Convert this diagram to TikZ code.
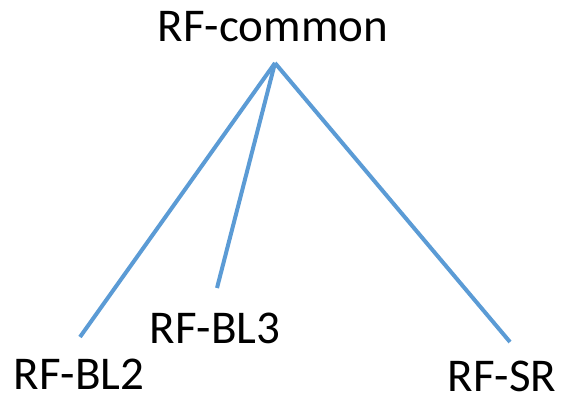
\documentclass[tikz,border=0pt]{standalone}
\usepackage{fontspec}
\setmainfont{Carlito}
\definecolor{lineblue}{HTML}{5B9BD5}
\tikzset{
  branch/.style={line width=4pt, draw=lineblue},
  rflabel/.style={inner sep=0pt, anchor=base, font=\fontsize{47}{56}\selectfont}
}

\begin{document}
\begin{tikzpicture}[x=1pt, y=-1pt]
  \useasboundingbox (0,0) rectangle (567,398);

  % labels, placed on their baselines
  \node[rflabel] (common) at (273,42) {RF-common};
  \node[rflabel] (bltwo) at (79,389) {RF-BL2};
  \node[rflabel] (blthree) at (215,343) {RF-BL3};
  \node[rflabel] (sr) at (502,391) {RF-SR};

  % ends of the branches
  \coordinate (top) at (275,63);
  \coordinate (endtwo) at (80,337);
  \coordinate (endthree) at (217,288);
  \coordinate (endsr) at (510,342);

  \draw[branch] (top) -- (endtwo);
  \draw[branch] (top) -- (endthree);
  \draw[branch] (top) -- (endsr);
\end{tikzpicture}
\end{document}
